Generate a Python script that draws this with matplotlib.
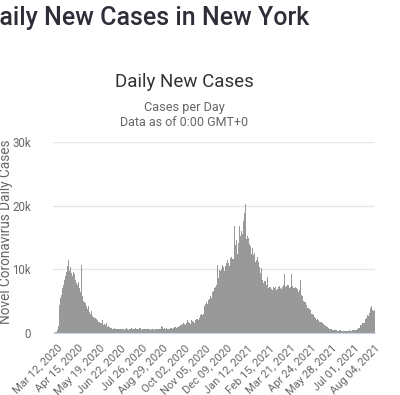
import datetime as dt

import matplotlib

matplotlib.use("Agg")
import matplotlib.dates as mdates
import matplotlib.pyplot as plt
import numpy as np

plt.rcParams["font.family"] = ["Roboto", "DejaVu Sans"]

# daily new cases (thousands), Mar 06 2020 .. Aug 04 2021, one row per week
start_date = dt.date(2020, 3, 6)
daily_cases_k = [
    0.0, 0.0, 0.0, 0.1, 0.1, 0.1, 0.2,
    0.4, 1.1, 2.8, 4.4, 5.2, 5.5, 6.0,
    6.6, 7.1, 7.6, 7.9, 8.4, 8.8, 9.0,
    9.6, 10.1, 10.5, 11.4, 10.3, 9.8, 10.0,
    10.4, 9.5, 11.4, 8.9, 9.6, 10.1, 9.3,
    11.7, 8.4, 7.8, 7.3, 7.5, 8.0, 7.6,
    7.0, 6.8, 6.4, 10.7, 6.2, 5.8, 5.4,
    5.0, 4.8, 4.5, 4.7, 4.3, 4.0, 3.8,
    3.6, 4.2, 3.3, 3.1, 3.0, 3.4, 2.9,
    2.7, 3.6, 2.5, 2.3, 2.2, 2.4, 2.2,
    2.8, 2.0, 1.9, 1.8, 1.7, 1.9, 1.6,
    1.5, 1.6, 2.1, 1.4, 1.3, 1.4, 1.2,
    1.3, 1.6, 1.1, 1.0, 1.0, 1.1, 0.9,
    1.0, 0.8, 0.9, 0.8, 0.7, 0.9, 0.7,
    0.8, 0.7, 0.6, 0.6, 0.7, 0.6, 0.7,
    0.6, 0.6, 0.5, 0.6, 0.6, 0.6, 0.7,
    1.1, 0.6, 0.5, 0.6, 0.6, 0.7, 0.8,
    0.7, 0.6, 0.5, 0.6, 0.6, 0.6, 0.7,
    0.8, 0.7, 0.6, 0.6, 0.7, 0.8, 0.8,
    0.8, 0.7, 0.6, 0.7, 0.7, 0.8, 0.8,
    0.8, 0.7, 0.5, 0.6, 0.7, 0.7, 0.7,
    0.7, 0.6, 0.5, 0.6, 0.7, 0.7, 0.7,
    0.7, 0.6, 0.5, 0.6, 0.6, 0.7, 0.7,
    0.7, 0.6, 0.5, 0.6, 0.6, 0.6, 0.7,
    0.6, 0.6, 0.5, 0.6, 0.6, 0.6, 1.1,
    1.0, 0.6, 0.6, 0.7, 0.8, 0.7, 0.8,
    0.8, 0.7, 0.6, 0.6, 0.6, 0.7, 0.8,
    0.8, 0.8, 0.7, 0.7, 0.8, 0.8, 0.9,
    0.9, 0.9, 0.8, 0.9, 1.0, 1.0, 1.1,
    1.1, 1.2, 1.0, 1.2, 1.3, 1.4, 1.5,
    1.6, 1.4, 1.3, 1.4, 1.6, 1.7, 2.0,
    1.8, 1.6, 1.5, 1.4, 1.7, 2.0, 1.8,
    1.9, 1.8, 1.7, 1.6, 1.9, 2.1, 2.2,
    2.3, 2.2, 2.0, 2.1, 2.4, 2.6, 2.8,
    3.0, 3.2, 2.9, 3.0, 3.6, 4.2, 4.9,
    4.6, 4.8, 4.3, 4.5, 5.2, 5.7, 5.4,
    6.0, 5.8, 5.5, 5.9, 6.4, 6.6, 6.9,
    7.0, 7.4, 7.2, 7.6, 9.2, 10.7, 8.6,
    9.5, 9.9, 9.6, 9.8, 10.1, 10.0, 10.7,
    10.3, 10.4, 9.8, 9.9, 10.5, 11.0, 11.2,
    11.5, 12.3, 11.0, 10.6, 11.4, 11.8, 11.9,
    12.2, 11.7, 11.3, 11.6, 16.8, 13.1, 13.9,
    14.6, 12.0, 12.4, 13.4, 14.2, 16.8, 18.4,
    15.2, 16.0, 14.9, 15.5, 16.8, 17.6, 18.8,
    17.3, 20.2, 14.7, 14.0, 15.2, 14.6, 15.0,
    14.0, 13.1, 13.6, 12.8, 12.4, 13.4, 12.9,
    12.3, 12.6, 11.6, 11.2, 11.0, 11.4, 11.9,
    11.0, 11.2, 10.4, 9.8, 9.4, 9.9, 10.2,
    8.4, 8.6, 7.9, 8.1, 8.3, 8.2, 7.8,
    7.6, 8.8, 7.4, 7.0, 7.2, 9.0, 7.3,
    7.1, 6.9, 6.8, 7.0, 7.2, 7.1, 9.2,
    7.3, 7.0, 6.7, 6.9, 7.1, 7.3, 9.1,
    7.4, 7.1, 6.8, 6.9, 7.2, 7.4, 7.6,
    7.5, 9.2, 7.3, 7.0, 7.4, 7.6, 9.3,
    7.6, 7.4, 7.1, 7.3, 7.6, 9.2, 7.4,
    7.2, 7.0, 6.9, 7.1, 7.2, 9.0, 7.0,
    6.9, 6.6, 6.4, 6.6, 6.8, 8.3, 6.3,
    6.0, 5.8, 5.2, 5.0, 5.2, 4.9, 4.8,
    4.6, 4.4, 4.4, 4.0, 3.9, 4.1, 3.8,
    3.6, 3.3, 3.0, 2.8, 3.0, 2.9, 2.6,
    2.5, 2.4, 2.2, 2.0, 2.1, 2.2, 2.0,
    1.9, 1.8, 1.7, 1.6, 1.7, 1.6, 1.5,
    1.4, 1.3, 1.2, 1.1, 1.2, 1.1, 1.0,
    0.9, 0.8, 0.7, 0.6, 0.7, 0.7, 0.6,
    0.6, 0.5, 0.5, 0.4, 0.5, 0.5, 0.5,
    0.4, 0.4, 0.3, 0.3, 0.4, 0.4, 0.4,
    0.4, 0.3, 0.3, 0.3, 0.3, 0.3, 0.3,
    0.3, 0.3, 0.3, 0.3, 0.3, 0.3, 0.4,
    0.4, 0.3, 0.3, 0.3, 0.4, 0.4, 0.4,
    0.4, 0.4, 0.3, 0.4, 0.5, 0.6, 0.7,
    0.8, 0.9, 0.8, 1.0, 1.2, 1.3, 1.5,
    1.6, 1.8, 1.6, 1.5, 1.9, 2.2, 2.4,
    2.6, 2.8, 2.5, 2.7, 3.1, 3.5, 3.9,
    4.3, 4.1, 3.6, 3.8, 3.4, 3.6,
]

y_ticks = [0, 10000, 20000, 30000]
y_tick_labels = ["0", "10k", "20k", "30k"]
first_tick = dt.date(2020, 3, 12)
tick_step_days = 34
n_ticks = 16

dates = [start_date + dt.timedelta(days=i) for i in range(len(daily_cases_k))]
cases = np.array(daily_cases_k) * 1000
tick_dates = [first_tick + dt.timedelta(days=tick_step_days * i) for i in range(n_ticks)]

W, H = 400, 395
fig = plt.figure(figsize=(W / 100, H / 100), dpi=100)
fig.patch.set_facecolor("white")

# page heading, cut off on the left like the screenshot
fig.text(-17 / W, 1 - 18 / H, "Daily New Cases in New York", fontsize=18,
         fontweight="medium", color="#2e2e38", ha="left", va="center")
fig.text(184 / W, 1 - 82 / H, "Daily New Cases", fontsize=13.5,
         color="#333333", ha="center", va="center")
fig.text(184 / W, 1 - 107 / H, "Cases per Day", fontsize=9.2,
         color="#666666", ha="center", va="center")
fig.text(184 / W, 1 - 122 / H, "Data as of 0:00 GMT+0", fontsize=9,
         color="#666666", ha="center", va="center")

ax = fig.add_axes([53 / W, (H - 333) / H, 322 / W, 191 / H])
ax.bar(dates, cases, width=1.0, color="#999999", linewidth=0, align="center")

ax.set_ylim(0, 30000)
ax.set_xlim(mdates.date2num(dt.date(2020, 3, 5)) + 0.5,
            mdates.date2num(dt.date(2021, 8, 5)))
ax.set_yticks(y_ticks)
ax.set_yticklabels(y_tick_labels)
ax.set_xticks(tick_dates)
ax.set_xticklabels([d.strftime("%b %d, %Y") for d in tick_dates],
                   rotation=45, ha="right", va="top", rotation_mode="anchor")

ax.grid(axis="y", color="#e6e6e6", linewidth=1)
ax.set_axisbelow(True)
for side in ["top", "right", "left"]:
    ax.spines[side].set_visible(False)
ax.spines["bottom"].set_color("#ccd6eb")
ax.tick_params(axis="both", length=0, colors="#666666", labelsize=8.3)
ax.tick_params(axis="x", pad=7, labelsize=8.0)
ax.tick_params(axis="y", pad=16)

ax.set_ylabel("Novel Coronavirus Daily Cases", fontsize=9.8, color="#666666")
ax.yaxis.set_label_coords(-40 / 322, 0.53)

fig.savefig("out.png", dpi=100, facecolor="white")
